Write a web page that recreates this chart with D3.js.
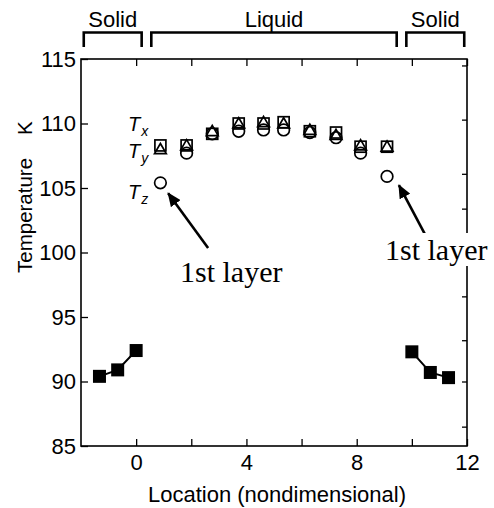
<!DOCTYPE html>
<html>
<head>
<meta charset="utf-8">
<script src="https://cdn.jsdelivr.net/npm/d3@7"></script>
<style>
  body { margin: 0; background: #fff; }
  text { font-family: "Liberation Sans", Arial, sans-serif; fill: #000; }
</style>
</head>
<body>
<svg id="chart" width="494" height="508"></svg>
<script>
// liquid part: location and the three temperature components
var liqLoc = [0.88, 1.83, 2.76, 3.72, 4.62, 5.35, 6.3, 7.25, 8.14, 9.1];
var tempX  = [108.3, 108.3, 109.2, 110.0, 110.0, 110.1, 109.4, 109.3, 108.2, 108.2];
var tempY  = [108.0, 108.3, 109.4, 110.0, 110.1, 110.0, 109.5, 109.1, 108.3, 108.2];
var tempZ  = [105.4, 107.7, 109.2, 109.4, 109.5, 109.5, 109.3, 108.9, 107.7, 105.9];

// solid parts on both sides
var solidLeftLoc  = [-1.33, -0.67, 0];
var solidLeftT    = [90.4, 90.9, 92.4];
var solidRightLoc = [10, 10.67, 11.33];
var solidRightT   = [92.3, 90.7, 90.3];

// axes
var xTicks = [0, 2, 4, 6, 8, 10, 12];
var xLabels = [0, 4, 8, 12];
var yTicks = [85, 90, 95, 100, 105, 110, 115];
var rightTicks = [114.5, 110.3, 106.1, 103.4, 96.6, 93.2, 90.0, 86.5];

// phase brackets on top
var phaseNames = ["Solid", "Liquid", "Solid"];
var phaseFrom  = [-1.9, 0.55, 9.8];
var phaseTo    = [0.2, 9.45, 11.9];

var plotL = 81, plotR = 467, plotT = 59, plotB = 446;

var svg = d3.select("#chart");
var x = d3.scaleLinear().domain([-2, 12]).range([plotL, plotR]);
var y = d3.scaleLinear().domain([85, 115]).range([plotB, plotT]);

// brackets
var br = svg.append("g");
phaseNames.forEach(function (name, i) {
  var x0 = x(phaseFrom[i]), x1 = x(phaseTo[i]);
  br.append("path")
    .attr("d", "M" + x0 + ",47V32.5H" + x1 + "V47")
    .attr("fill", "none").attr("stroke", "#000").attr("stroke-width", 2.6);
  br.append("text").attr("x", (x0 + x1) / 2).attr("y", 27)
    .attr("text-anchor", "middle").attr("font-size", 22).text(name);
});

// axes (ticks point inward)
function styleAxis(g) {
  g.select(".domain").remove();
  g.selectAll("line").attr("stroke", "#000").attr("stroke-width", 1.3);
  g.selectAll("text").attr("font-size", 22).attr("fill", "#000")
    .attr("font-family", "Liberation Sans, Arial, sans-serif");
}

svg.append("g").attr("transform", "translate(0," + plotB + ")")
  .call(d3.axisBottom(x).tickValues(xTicks).tickSize(-7).tickPadding(8)
    .tickFormat(function (d) { return xLabels.indexOf(d) >= 0 ? d : ""; }))
  .call(styleAxis);

svg.append("g").attr("transform", "translate(0," + plotT + ")")
  .call(d3.axisTop(x).tickValues(xTicks).tickSize(-7).tickFormat(""))
  .call(styleAxis);

svg.append("g").attr("transform", "translate(" + plotL + ",0)")
  .call(d3.axisLeft(y).tickValues(yTicks).tickSize(-7).tickPadding(5))
  .call(styleAxis);

svg.append("g").attr("transform", "translate(" + plotR + ",0)")
  .call(d3.axisRight(y).tickValues(rightTicks).tickSize(-5).tickFormat(""))
  .call(styleAxis);

svg.append("rect")
  .attr("x", plotL).attr("y", plotT).attr("width", plotR - plotL).attr("height", plotB - plotT)
  .attr("fill", "none").attr("stroke", "#000").attr("stroke-width", 1.6);

// axis titles
svg.append("text").attr("x", (plotL + plotR) / 2 + 3).attr("y", 502)
  .attr("text-anchor", "middle").attr("font-size", 22).text("Location (nondimensional)");

var yt = svg.append("text").attr("transform", "translate(32,273) rotate(-90)")
  .attr("font-size", 20.5);
yt.append("tspan").text("Temperature");
yt.append("tspan").attr("dx", 23).text("K");

// solid squares with joining lines
var line = d3.line().x(function (d) { return x(d[0]); }).y(function (d) { return y(d[1]); });
[[solidLeftLoc, solidLeftT], [solidRightLoc, solidRightT]].forEach(function (s) {
  var pts = d3.zip(s[0], s[1]);
  svg.append("path").attr("d", line(pts)).attr("fill", "none")
    .attr("stroke", "#000").attr("stroke-width", 2);
  svg.selectAll(null).data(pts).enter().append("rect")
    .attr("x", function (d) { return x(d[0]) - 6.5; })
    .attr("y", function (d) { return y(d[1]) - 6.5; })
    .attr("width", 13).attr("height", 13).attr("fill", "#000");
});

// liquid markers
var mk = { fill: "none", stroke: "#000", sw: 1.7 };
svg.selectAll(null).data(d3.zip(liqLoc, tempX)).enter().append("rect")
  .attr("x", function (d) { return x(d[0]) - 5.5; })
  .attr("y", function (d) { return y(d[1]) - 5.5; })
  .attr("width", 11).attr("height", 11)
  .attr("fill", mk.fill).attr("stroke", mk.stroke).attr("stroke-width", mk.sw);

var tri = d3.symbol().type(d3.symbolTriangle).size(60);
svg.selectAll(null).data(d3.zip(liqLoc, tempY)).enter().append("path")
  .attr("d", tri)
  .attr("transform", function (d) { return "translate(" + x(d[0]) + "," + (y(d[1]) + 1) + ")"; })
  .attr("fill", mk.fill).attr("stroke", mk.stroke).attr("stroke-width", mk.sw);

svg.selectAll(null).data(d3.zip(liqLoc, tempZ)).enter().append("circle")
  .attr("cx", function (d) { return x(d[0]); })
  .attr("cy", function (d) { return y(d[1]); })
  .attr("r", 5.8)
  .attr("fill", mk.fill).attr("stroke", mk.stroke).attr("stroke-width", mk.sw);

// component labels
var compNames = ["x", "y", "z"];
var compBase = [131, 158, 199];
compNames.forEach(function (c, i) {
  var t = svg.append("text").attr("x", 128).attr("y", compBase[i])
    .attr("font-size", 20).attr("font-style", "italic");
  t.append("tspan").text("T");
  t.append("tspan").attr("dx", 1).attr("dy", 5).attr("font-size", 14).text(c);
});

// "1st layer" annotations
svg.append("defs").append("marker")
  .attr("id", "head").attr("viewBox", "0 0 14 12").attr("refX", 13).attr("refY", 6)
  .attr("markerWidth", 14).attr("markerHeight", 12).attr("markerUnits", "userSpaceOnUse")
  .attr("orient", "auto")
  .append("path").attr("d", "M0,0L14,6L0,12Z").attr("fill", "#000");

var notes = [
  { from: [2.61, 100.35], to: [1.16, 104.6], tx: 180, ty: 282 },
  { from: [10.55, 101.12], to: [9.53, 105.23], tx: 385, ty: 260 }
];
notes.forEach(function (n) {
  svg.append("line")
    .attr("x1", x(n.from[0])).attr("y1", y(n.from[1]))
    .attr("x2", x(n.to[0])).attr("y2", y(n.to[1]))
    .attr("stroke", "#000").attr("stroke-width", 2.6).attr("marker-end", "url(#head)");
  var bg = svg.append("rect").attr("fill", "#fff");
  var t = svg.append("text").attr("x", n.tx).attr("y", n.ty)
    .style("font-family", "Liberation Serif, Times New Roman, serif")
    .attr("font-size", 30).text("1st layer");
  var b = t.node().getBBox();
  bg.attr("x", b.x - 2).attr("y", b.y).attr("width", b.width + 4).attr("height", b.height);
});
</script>
</body>
</html>
